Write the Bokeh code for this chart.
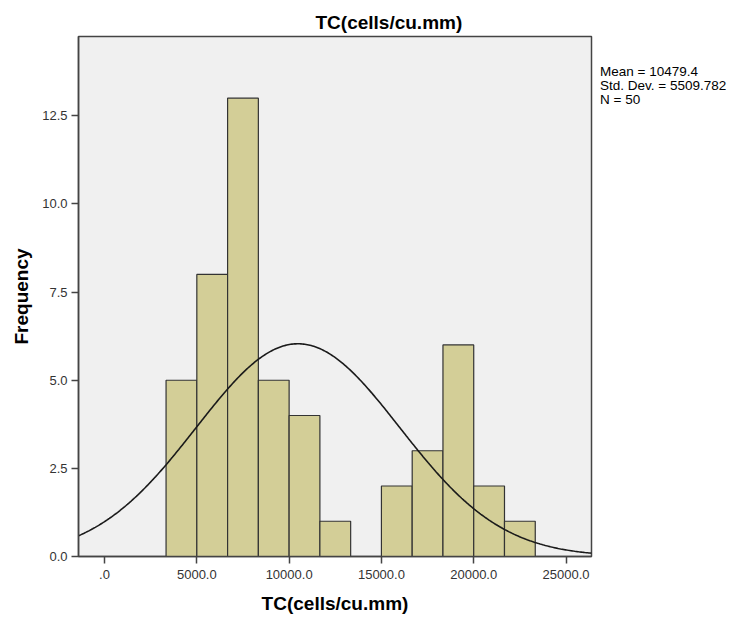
import numpy as np
from bokeh.plotting import figure
from bokeh.layouts import row
from bokeh.models import FixedTicker, Range1d, PrintfTickFormatter, AllLabels, Div
from bokeh.embed import file_html
from bokeh.resources import INLINE

# ---- data ----
bin_edges = [3333.3, 5000.0, 6666.7, 8333.3, 10000.0, 11666.7, 13333.3,
             15000.0, 16666.7, 18333.3, 20000.0, 21666.7, 23333.3]
counts = [5, 8, 13, 5, 4, 1, 0, 2, 3, 6, 2, 1]
mean_val = 10479.4
std_val = 5509.782
n_val = 50
x_ticks = [0, 5000, 10000, 15000, 20000, 25000]
y_ticks = [0, 2.5, 5.0, 7.5, 10.0, 12.5]
stats_lines = ["Mean = 10479.4", "Std. Dev. = 5509.782", "N = 50"]
title_text = "TC(cells/cu.mm)"
x_label = "TC(cells/cu.mm)"
y_label = "Frequency"

FONT = "Liberation Sans"
X0, X1 = -1410, 26380

p = figure(width=593, height=617, output_backend="svg", toolbar_location=None,
           x_range=Range1d(X0, X1), y_range=Range1d(0, 14.75),
           min_border_left=78, min_border_right=2, min_border_top=36,
           min_border_bottom=61, title=title_text)
p.title.text_font = FONT
p.title.text_font_size = "19px"
p.title.text_font_style = "bold"
p.title.align = "left"
p.title.offset = 237
p.title.text_color = "black"
p.title.standoff = 8
p.background_fill_color = "#F0F0F0"
p.border_fill_color = "white"
p.outline_line_color = "#444444"
p.outline_line_width = 1.5
p.xgrid.visible = False
p.ygrid.visible = False

lefts = [bin_edges[i] for i in range(len(counts)) if counts[i] > 0]
rights = [bin_edges[i + 1] for i in range(len(counts)) if counts[i] > 0]
tops = [c for c in counts if c > 0]
p.quad(left=lefts, right=rights, bottom=0, top=tops,
       fill_color="#D3CE97", line_color="#333333", line_width=1.2)

# fitted normal curve from the stated statistics
bw = bin_edges[1] - bin_edges[0]
xs = np.linspace(X0, X1, 400)
ys = n_val * bw * np.exp(-0.5 * ((xs - mean_val) / std_val) ** 2) / (std_val * np.sqrt(2 * np.pi))
p.line(xs, ys, line_color="#1a1a1a", line_width=1.6)

# axes
for ax in (p.xaxis[0], p.yaxis[0]):
    ax.axis_line_color = "#444444"
    ax.axis_line_width = 1.5
    ax.major_tick_line_color = "#444444"
    ax.major_tick_line_width = 1.5
    ax.major_tick_in = 0
    ax.major_tick_out = 7
    ax.minor_tick_line_color = None
    ax.major_label_text_font = FONT
    ax.major_label_text_font_size = "13px"
    ax.major_label_text_color = "#333333"
    ax.major_label_policy = AllLabels()
    ax.axis_label_text_font = FONT
    ax.axis_label_text_font_size = "19px"
    ax.axis_label_text_font_style = "bold"
    ax.axis_label_text_color = "black"

p.xaxis.ticker = FixedTicker(ticks=x_ticks)
p.xaxis.formatter = PrintfTickFormatter(format="%.1f")
p.xaxis.major_label_overrides = {0: ".0"}
p.yaxis.ticker = FixedTicker(ticks=y_ticks)
p.yaxis.formatter = PrintfTickFormatter(format="%.1f")
p.xaxis.axis_label = x_label
p.yaxis.axis_label = y_label
p.xaxis.major_label_standoff = 6
p.yaxis.major_label_standoff = 4
p.xaxis.axis_label_standoff = 11
p.yaxis.axis_label_standoff = 7

# statistics text block to the right of the frame
stats_html = ('<div style="font-family: \'Liberation Sans\'; font-size: 13.5px; '
              'line-height: 14px; color: black; padding-top: 65px; padding-left: 7px; '
              'white-space: nowrap;">' + "<br>".join(stats_lines) + "</div>")
stats = Div(text=stats_html, width=138, height=617, margin=0)

layout = row(p, stats)
open("out.html", "w").write(file_html(layout, INLINE))
